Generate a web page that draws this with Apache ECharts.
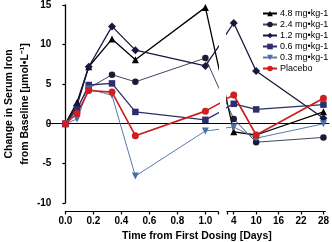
<!DOCTYPE html>
<html>
<head>
<meta charset="utf-8">
<script src="https://cdn.jsdelivr.net/npm/echarts@6/dist/echarts.min.js"></script>
<style>
  html, body { margin: 0; padding: 0; background: #fff; }
  #chart { width: 332px; height: 242px; }
</style>
</head>
<body>
<div id="chart"></div>
<script>
// time points, first day (days) and later days
const earlyTimes = [0, 0.083, 0.167, 0.333, 0.5, 1.0];
const lateDays = [4, 10, 28];

const seriesNames = ['4.8 mg•kg-1', '2.4 mg•kg-1', '1.2 mg•kg-1', '0.6 mg•kg-1', '0.3 mg•kg-1', 'Placebo'];

// change in serum iron (µmol/L)
const dose48Early = [0, 2.7, 7.2, 10.7, 8.1, 14.7];
const dose48Late = [-1.1, -1.5, 1.4];
const dose24Early = [0, 2.0, 4.5, 6.2, 5.3, 8.3];
const dose24Late = [0.5, -2.4, -1.8];
const dose12Early = [0, 2.3, 7.2, 12.3, 9.3, 7.3];
const dose12Late = [12.5, 6.5, 0.6];
const dose06Early = [0, 1.8, 4.9, 5.1, 1.5, 0.5];
const dose06Late = [2.4, 1.7, 2.3];
const dose03Early = [0, 0.6, 4.4, 3.6, -6.6, -0.9];
const dose03Late = [-0.5, -1.9, -0.1];
const placeboEarly = [0, 1.3, 4.2, 4.0, -1.5, 1.6];
const placeboLate = [3.5, -1.5, 3.1];

const leftTicks = [0, 0.2, 0.4, 0.6, 0.8, 1.0];
const rightTicks = [4, 10, 16, 22, 28];
const yTicks = { min: -10, max: 15, interval: 5 };

// broken x axis: two segments
const L = { left: 57, width: 161, min: 0, max: 1.09 };
const R = { left: 227, width: 102, min: 2.2, max: 28.5 };
const TOP = 3, HEIGHT = 200;
L.scale = L.width / (L.max - L.min);
R.scale = R.width / (R.max - R.min);

// position of a value of one segment expressed in the other segment's units,
// so the joining line runs straight across the break and is clipped there
const lateInLeft = d => L.min + (R.left + (d - R.min) * R.scale - L.left) / L.scale;
const earlyInRight = t => R.min + (L.left + (t - L.min) * L.scale - R.left) / R.scale;

const styles = [
  { color: '#000000', lineColor: '#000000', symbol: 'triangle', size: 7, width: 1.3 },
  { color: '#1b1b35', lineColor: '#45455e', symbol: 'circle', size: 6.5, width: 1 },
  { color: '#17173f', lineColor: '#17173f', symbol: 'diamond', size: 8, width: 1.3 },
  { color: '#2e2e6c', lineColor: '#2e2e6c', symbol: 'rect', size: 6.5, width: 1.3 },
  { color: '#4a6fa6', lineColor: '#5a7bab', symbol: 'triangle', size: 7, width: 1, rotate: 180 },
  { color: '#d11f1f', lineColor: '#c81e1e', symbol: 'circle', size: 7, width: 1.6 }
];

const allEarly = [dose48Early, dose24Early, dose12Early, dose06Early, dose03Early, placeboEarly];
const allLate = [dose48Late, dose24Late, dose12Late, dose06Late, dose03Late, placeboLate];

const series = [];
seriesNames.forEach((name, i) => {
  const s = styles[i];
  const common = {
    name: name,
    type: 'line',
    symbol: s.symbol,
    symbolSize: s.size,
    symbolRotate: s.rotate || 0,
    clip: true,
    animation: false,
    itemStyle: { color: s.color },
    lineStyle: { color: s.lineColor, width: s.width }
  };
  const early = earlyTimes.map((t, k) => [t, allEarly[i][k]]);
  early.push([lateInLeft(lateDays[0]), allLate[i][0]]);
  const late = [[earlyInRight(1.0), allEarly[i][5]]];
  lateDays.forEach((d, k) => late.push([d, allLate[i][k]]));
  series.push(Object.assign({}, common, { xAxisIndex: 0, yAxisIndex: 0, data: early }));
  series.push(Object.assign({}, common, { xAxisIndex: 1, yAxisIndex: 1, data: late }));
});

const labelFont = { color: '#000', fontFamily: 'Liberation Sans', fontWeight: 'bold', fontSize: 10 };

const chart = echarts.init(document.getElementById('chart'));
chart.setOption({
  animation: false,
  grid: [
    { left: L.left, width: L.width, top: TOP, height: HEIGHT },
    { left: R.left, width: R.width, top: TOP, height: HEIGHT },
    { left: 48, width: 281, top: TOP, height: HEIGHT }
  ],
  legend: {
    data: seriesNames,
    orient: 'vertical',
    left: 262,
    top: 8,
    padding: 0,
    itemGap: 0,
    itemWidth: 14,
    itemHeight: 7,
    textStyle: { fontFamily: 'Liberation Sans', fontSize: 9, color: '#000', lineHeight: 11, padding: [0, 0, 0, -2] }
  },
  xAxis: [
    {
      type: 'value', gridIndex: 0, min: L.min, max: L.max, offset: 8.5,
      splitLine: { show: false },
      axisLine: { onZero: false, lineStyle: { color: '#000', width: 1.2 } },
      axisTick: { customValues: leftTicks.concat([L.max]), length: 3, lineStyle: { color: '#000', width: 1.2 } },
      axisLabel: Object.assign({ customValues: leftTicks, margin: 5, formatter: v => v.toFixed(1) }, labelFont)
    },
    {
      type: 'value', gridIndex: 1, min: R.min, max: R.max, offset: 8.5,
      splitLine: { show: false },
      axisLine: { onZero: false, lineStyle: { color: '#000', width: 1.2 } },
      axisTick: { customValues: [R.min].concat(rightTicks), length: 3, lineStyle: { color: '#000', width: 1.2 } },
      axisLabel: Object.assign({ customValues: rightTicks, margin: 5 }, labelFont)
    },
    {
      type: 'value', gridIndex: 2, min: 0, max: 1,
      splitLine: { show: false },
      axisLine: { onZero: true, lineStyle: { color: '#000', width: 1 } },
      axisTick: { show: false },
      axisLabel: { show: false }
    }
  ],
  yAxis: [
    {
      type: 'value', gridIndex: 0, min: yTicks.min, max: yTicks.max, interval: yTicks.interval,
      offset: L.left - 48,
      splitLine: { show: false },
      axisLine: { show: true, lineStyle: { color: '#000', width: 1.3 } },
      axisTick: { show: true, length: 3, lineStyle: { color: '#000', width: 1.2 } },
      axisLabel: Object.assign({ margin: 5 }, labelFont),
      name: 'Change in Serum Iron\nfrom Baseline [µmol•L⁻¹]',
      nameLocation: 'middle',
      nameGap: 18,
      nameTextStyle: { color: '#000', fontFamily: 'Liberation Sans', fontWeight: 'bold', fontSize: 10.5, lineHeight: 16 }
    },
    { type: 'value', gridIndex: 1, min: yTicks.min, max: yTicks.max, show: false },
    { type: 'value', gridIndex: 2, min: yTicks.min, max: yTicks.max, show: false }
  ],
  graphic: [
    {
      type: 'text', left: 122, top: 231,
      style: { text: 'Time from First Dosing [Days]', fill: '#000', font: 'bold 10.5px "Liberation Sans"' }
    }
  ],
  series: series
});
</script>
</body>
</html>
